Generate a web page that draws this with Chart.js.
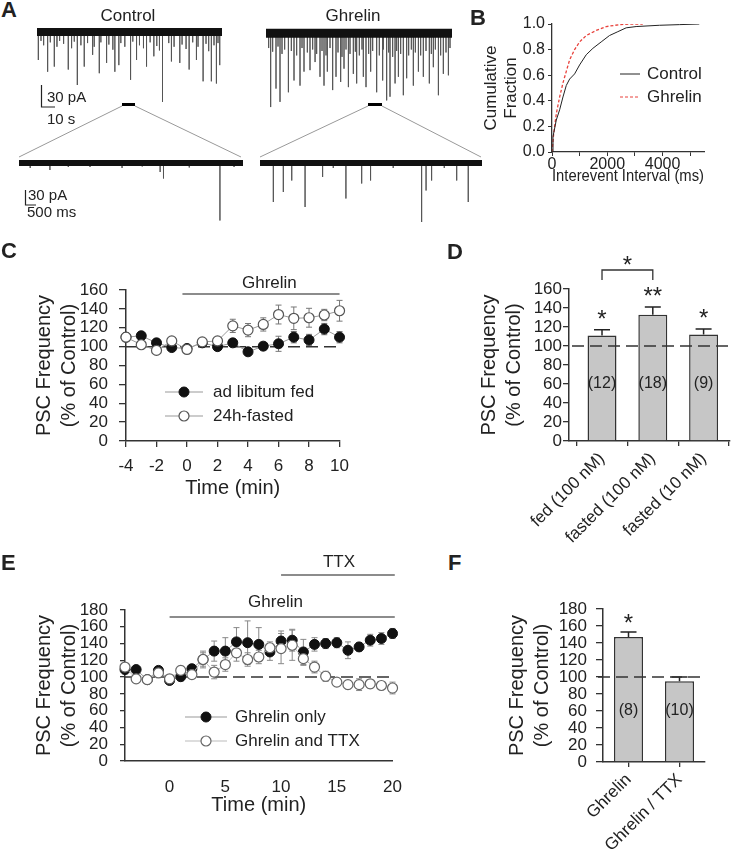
<!DOCTYPE html>
<html>
<head>
<meta charset="utf-8">
<script src="https://cdn.jsdelivr.net/npm/chart.js@4.4.1/dist/chart.umd.min.js"></script>
<style>
  body { margin: 0; background: #fff; font-family: "Liberation Sans", Arial, Helvetica, sans-serif; color: #222; }
  #fig { position: relative; width: 737px; height: 853px; overflow: hidden; }
  .txt { position: absolute; white-space: nowrap; line-height: 1; }
  .letter { position: absolute; font-weight: bold; font-size: 22px; line-height: 1; }
  svg { position: absolute; left: 0; top: 0; pointer-events: none; }
</style>
</head>
<body>
<div id="fig">
  <div class="letter" style="left:1px;top:-1px">A</div>
  <div class="letter" style="left:470px;top:7px">B</div>
  <div class="letter" style="left:1px;top:240px">C</div>
  <div class="letter" style="left:447px;top:241px">D</div>
  <div class="letter" style="left:1px;top:552px">E</div>
  <div class="letter" style="left:448px;top:552px">F</div>

  <div class="txt" style="left:128px;top:15px;font-size:17px;transform:translate(-50%,-50%)">Control</div>
  <div class="txt" style="left:353px;top:15px;font-size:17px;transform:translate(-50%,-50%)">Ghrelin</div>
  <div class="txt" style="left:47px;top:96px;font-size:15px;transform:translateY(-50%)">30 pA</div>
  <div class="txt" style="left:47px;top:118px;font-size:15px;transform:translateY(-50%)">10 s</div>
  <div class="txt" style="left:28px;top:194px;font-size:15px;transform:translateY(-50%)">30 pA</div>
  <div class="txt" style="left:27px;top:211px;font-size:15px;transform:translateY(-50%)">500 ms</div>

  <svg width="737" height="853">
    <!-- scale bars -->
    <path d="M41.5 85 V107 H55" fill="none" stroke="#222" stroke-width="1.2"/>
    <path d="M25.5 190 V205 H36" fill="none" stroke="#222" stroke-width="1.2"/>
    <!-- expanded segments -->
    <line x1="122" y1="104.5" x2="135" y2="104.5" stroke="#000" stroke-width="3"/>
    <line x1="368" y1="104.5" x2="382" y2="104.5" stroke="#000" stroke-width="3"/>
    <path d="M122 106 L19 157 M135 106 L241 157" stroke="#999" stroke-width="1" fill="none"/>
    <path d="M368 106 L260 157 M382 106 L481 157" stroke="#999" stroke-width="1" fill="none"/>
  </svg>
</div>

<script>
// ---------- Panel A: events, [time (s), amplitude (pA)] ----------
var ctrlOverviewEvents = [
  [1.0,38],[3,12],[5,18],[8.0,54],[10,14],[13.0,47],[15,20],[17,12],[20,16],[23.5,51],[26,22],[28,13],
  [30.3,72],[33,18],[35.5,47],[38,15],[41.8,31],[43,20],[46.8,56],[48,14],[52.3,42],[54,17],[57,24],
  [58.5,54],[61.5,45],[63,15],[66,20],[70.3,65],[72,13],[74.8,38],[77,18],[80,22],[82.3,47],[85,14],
  [87.8,33],[90,19],[92,25],[94.3,95],[99,15],[101,40],[103,20],[107.3,42],[109,17],[112,23],[114.3,51],
  [117,14],[119.8,38],[121,20],[124.8,67],[127,16],[129,26],[131,67],[133,18],[134.8,70],[136,15],[137.3,45]
];
var ghrOverviewEvents = [
  [2,20],[3.5,100],[5,25],[7.5,75],[9,18],[10.5,93],[12,28],[14,22],[16.8,80],[19,24],[21,64],[23,30],
  [25.5,71],[27,20],[28.5,52],[31,26],[33,50],[35,22],[36.8,39],[38,28],[40.5,59],[42,24],[43.5,71],
  [45,30],[46,52],[48,20],[50,77],[52.5,59],[54,26],[56,66],[57,32],[58.5,48],[60,22],[61.8,73],[63,28],
  [65.5,55],[67,25],[68,68],[70,30],[72,22],[73,59],[75,73],[77,28],[78.5,52],[80,24],[83,80],[85,30],
  [87.5,64],[88,22],[90.5,91],[92,26],[93,86],[95,32],[96.8,68],[98,24],[99.3,59],[101,28],[103,84],
  [105.5,61],[107,30],[109,22],[110.5,71],[112,26],[114.3,52],[116,30],[118,59],[120,24],[122.5,68],
  [124,28],[125.5,46],[127,22],[129.3,84],[131,30],[133,55],[135,26],[136.8,57],[138,20]
];
var ctrlZoomEvents = [[0.5,10],[1.38,14],[2.2,8],[3.17,8],[4.6,10],[5.5,7],[6.3,18],[6.45,31],[7.6,9],[8.97,115],[9.6,8]];
var ghrZoomEvents = [[0.6,78],[1.05,58],[1.43,35],[2.03,88],[2.82,28],[3.3,10],[3.87,71],[4.58,41],[4.98,35],
  [6.0,10],[7.28,118],[7.48,55],[7.73,35],[8.3,10],[8.86,35],[9.38,78]];

// ---------- Panel B: cumulative distribution of interevent intervals ----------
var cumCtrlMs   = [0, 36, 156, 277, 397, 517, 638, 818, 998, 1239, 1480, 1780, 2081, 2382, 2683, 3044, 3886, 4608, 5329];
var cumCtrlFrac = [0, 0.12, 0.25, 0.33, 0.43, 0.52, 0.57, 0.61, 0.68, 0.76, 0.81, 0.86, 0.91, 0.94, 0.97, 0.98, 0.99, 0.995, 1.0];
var cumGhrMs    = [0, 60, 156, 277, 397, 517, 638, 818, 998, 1239, 1600, 1961, 2442, 2923, 3284];
var cumGhrFrac  = [0, 0.14, 0.30, 0.43, 0.54, 0.63, 0.72, 0.80, 0.86, 0.91, 0.95, 0.98, 0.995, 1.0, 1.0];
var ticksB = [0, 1000, 2000, 3000, 4000, 5000];
var tickLabelsB = ['0', '', '2000', '', '4000', ''];

// ---------- Panel C ----------
var timeC      = [-4, -3, -2, -1, 0, 1, 2, 3, 4, 5, 6, 7, 8, 9, 10];
var fedC       = [110, 111.5, 104, 99, 98, 104, 100, 104, 94.5, 100.5, 103, 110, 107, 118.6, 110];
var fedErrC    = [4, 3, 3, 3, 2, 3, 3, 4, 3, 4, 8, 6, 6, 6, 6];
var fastedC    = [110, 102, 96, 106, 97, 105, 106, 122, 117.5, 123.5, 134, 130, 130.6, 133.5, 138];
var fastedErrC = [4, 3, 3, 3, 2, 3, 3, 7, 7, 7, 10, 12, 10, 6, 11];
var ghrelinPeriodC = [-0.3, 10];

// ---------- Panel D ----------
var groupsD = ['fed (100 nM)', 'fasted (100 nM)', 'fasted (10 nM)'];
var meanD   = [111, 133, 112];
var semD    = [6, 8, 6];
var nD      = ['(12)', '(18)', '(9)'];
var starsD  = ['*', '**', '*'];

// ---------- Panel E ----------
var timeE    = [-4, -3, -2, -1, 0, 1, 2, 3, 4, 5, 6, 7, 8, 9, 10, 11, 12, 13, 14, 15, 16, 17, 18, 19, 20];
var onlyE    = [109, 109, 97, 108, 96, 100.5, 110, 121, 131, 131, 142, 141, 139, 130, 143, 144, 130, 139, 140, 141, 132, 136, 144, 146, 152];
var onlyErrE = [5, 3, 3, 4, 4, 5, 5, 8, 12, 16, 17, 26, 20, 10, 12, 13, 15, 8, 6, 6, 10, 5, 7, 7, 6];
var ttxE     = [112, 98, 97, 105, 98, 108, 103, 121, 106, 115, 129, 121, 124, 135, 134, 138, 122, 112, 101, 94, 91, 91, 92, 90, 87];
var ttxErrE  = [4, 4, 3, 3, 3, 5, 4, 10, 8, 8, 10, 8, 8, 7, 18, 18, 8, 7, 6, 4, 5, 7, 5, 4, 7];
var ticksE   = [0, 5, 10, 15, 20];
var ghrelinPeriodE = [0, 20.2];
var ttxPeriodE = [10, 20.2];

// ---------- Panel F ----------
var groupsF = ['Ghrelin', 'Ghrelin / TTX'];
var meanF   = [147, 95];
var semF    = [6, 5];
var nF      = ['(8)', '(10)'];
var starsF  = ['*', ''];

// ================= setup =================
var FONT = '"Liberation Sans", Arial, Helvetica, sans-serif';
Chart.defaults.font.family = FONT;
Chart.defaults.color = '#222';
Chart.defaults.animation = false;
Chart.defaults.responsive = false;
Chart.defaults.plugins.legend.display = false;
Chart.defaults.plugins.tooltip.enabled = false;

var fig = document.getElementById('fig');

function makeCanvas(left, top, w, h) {
  var c = document.createElement('canvas');
  c.width = w;
  c.height = h;
  c.style.position = 'absolute';
  c.style.left = left + 'px';
  c.style.top = top + 'px';
  fig.insertBefore(c, fig.firstChild);
  return c.getContext('2d');
}

function pairs(xs, ys) {
  return xs.map(function(x, i) { return {x: x, y: ys[i]}; });
}

// turn an event list into a trace: flat baseline with a spike per event
function traceData(events) {
  var pts = [];
  events.slice().sort(function(a, b) { return a[0] - b[0]; }).forEach(function(e) {
    pts.push({x: e[0], y: 0}, {x: e[0], y: -e[1]}, {x: e[0] + 0.001, y: 0});
  });
  return pts;
}

// error bars drawn under the markers
var errorBars = {
  id: 'errorBars',
  beforeDatasetsDraw: function(chart) {
    var ctx = chart.ctx, ys = chart.scales.y;
    chart.data.datasets.forEach(function(ds, i) {
      if (!ds.errors) return;
      var meta = chart.getDatasetMeta(i);
      ctx.save();
      ctx.strokeStyle = ds.errorColor;
      ctx.lineWidth = ds.errorWidth || 1;
      meta.data.forEach(function(el, j) {
        var v = ds.data[j];
        if (typeof v === 'object') v = v.y;
        var e = ds.errors[j];
        var top = ys.getPixelForValue(v + e);
        var bot = ds.errorUpOnly ? ys.getPixelForValue(v) : ys.getPixelForValue(v - e);
        var x = el.x, cap = ds.errorCap;
        ctx.beginPath();
        ctx.moveTo(x, top); ctx.lineTo(x, bot);
        ctx.moveTo(x - cap, top); ctx.lineTo(x + cap, top);
        if (!ds.errorUpOnly) { ctx.moveTo(x - cap, bot); ctx.lineTo(x + cap, bot); }
        ctx.stroke();
      });
      ctx.restore();
    });
  }
};

function dashed100(chart, x0off, x1off) {
  var ctx = chart.ctx, a = chart.chartArea;
  var y = chart.scales.y.getPixelForValue(100);
  ctx.save();
  ctx.strokeStyle = '#333';
  ctx.lineWidth = 1.5;
  ctx.setLineDash([12, 6]);
  ctx.beginPath();
  ctx.moveTo(a.left + x0off, y);
  ctx.lineTo(a.right + x1off, y);
  ctx.stroke();
  ctx.restore();
}

function period(chart, range, y, label, labelX, labelY) {
  var ctx = chart.ctx, xs = chart.scales.x;
  ctx.save();
  ctx.strokeStyle = '#666';
  ctx.lineWidth = 1.5;
  ctx.beginPath();
  ctx.moveTo(xs.getPixelForValue(range[0]), y);
  ctx.lineTo(xs.getPixelForValue(range[1]), y);
  ctx.stroke();
  ctx.fillStyle = '#222';
  ctx.font = '17px ' + FONT;
  ctx.textAlign = 'center';
  ctx.textBaseline = 'middle';
  ctx.fillText(label, xs.getPixelForValue(labelX), labelY);
  ctx.restore();
}

function insideLegend(chart, x0, x1, textX, rows) {
  var ctx = chart.ctx;
  ctx.save();
  rows.forEach(function(r) {
    var ds = chart.data.datasets[r.ds];
    ctx.strokeStyle = ds.borderColor;
    ctx.lineWidth = 1;
    ctx.setLineDash(ds.borderDash || []);
    ctx.beginPath();
    ctx.moveTo(x0, r.y); ctx.lineTo(x1, r.y);
    ctx.stroke();
    ctx.setLineDash([]);
    if (ds.pointRadius) {
      ctx.beginPath();
      ctx.arc((x0 + x1) / 2, r.y, ds.pointRadius, 0, Math.PI * 2);
      ctx.fillStyle = ds.pointBackgroundColor;
      ctx.fill();
      ctx.strokeStyle = ds.pointBorderColor;
      ctx.lineWidth = ds.pointBorderWidth;
      ctx.stroke();
    }
    ctx.fillStyle = '#222';
    ctx.font = r.size + 'px ' + FONT;
    ctx.textAlign = 'left';
    ctx.textBaseline = 'middle';
    ctx.fillText(ds.label, textX, r.y);
  });
  ctx.restore();
}

function barNotes(chart, means, sems, ns, stars, starOff) {
  var ctx = chart.ctx, ys = chart.scales.y;
  var meta = chart.getDatasetMeta(0);
  ctx.save();
  ctx.fillStyle = '#222';
  ctx.textAlign = 'center';
  meta.data.forEach(function(bar, i) {
    ctx.font = '16px ' + FONT;
    ctx.textBaseline = 'middle';
    ctx.fillText(ns[i], bar.x, ys.getPixelForValue(60));
    if (stars[i]) {
      ctx.font = '24px ' + FONT;
      ctx.textBaseline = 'alphabetic';
      ctx.fillText(stars[i], bar.x, ys.getPixelForValue(means[i] + sems[i]) - starOff + 13);
    }
  });
  ctx.restore();
}

function yAxisPSC(max, width, titlePad, tickLen, tickPad) {
  return {
    type: 'linear', min: 0, max: max,
    ticks: {stepSize: 20, autoSkip: false, padding: tickPad, color: '#222', font: {size: 17, lineHeight: 1}},
    grid: {display: true, drawOnChartArea: false, drawTicks: true, tickLength: tickLen, color: '#333', lineWidth: 1.3},
    border: {display: true, color: '#333', width: 1.5},
    title: {display: true, text: ['PSC Frequency', '(% of Control)'], color: '#222',
            font: {size: 20, lineHeight: 1.25}, padding: {top: titlePad, bottom: 0}},
    afterFit: function(s) { s.width = width; }
  };
}

// ---------- Panel A charts ----------
function traceChart(left, top, w, h, events, span, ymin, ymax, band) {
  new Chart(makeCanvas(left, top, w, h), {
    type: 'line',
    data: {
      datasets: [
        {data: [{x: 0, y: 0}, {x: span, y: 0}], borderColor: '#111', borderWidth: band, pointRadius: 0},
        {data: traceData(events), borderColor: '#555', borderWidth: 1, pointRadius: 0, tension: 0}
      ]
    },
    options: {
      layout: {padding: 0},
      scales: {
        x: {type: 'linear', display: false, min: 0, max: span},
        y: {type: 'linear', display: false, min: ymin, max: ymax}
      }
    }
  });
}
traceChart(37, 20, 185, 90, ctrlOverviewEvents, 139, -106, 16.4, 8);
traceChart(266, 20, 186, 90, ghrOverviewEvents, 139.5, -104, 18, 9);
traceChart(19, 150, 224, 75, ctrlZoomEvents, 10, -124, 26, 6);
traceChart(260, 150, 222, 75, ghrZoomEvents, 10, -124, 26, 6);

// ---------- Panel B ----------
new Chart(makeCanvas(470, 0, 267, 190), {
  type: 'line',
  data: {
    datasets: [
      {label: 'Control', data: pairs(cumCtrlMs, cumCtrlFrac), borderColor: '#222', borderWidth: 1, pointRadius: 0},
      {label: 'Ghrelin', data: pairs(cumGhrMs, cumGhrFrac), borderColor: '#e8413b', borderWidth: 1.3,
       borderDash: [3, 2], pointRadius: 0}
    ]
  },
  options: {
    layout: {padding: {top: 24, right: 33, left: 0, bottom: 0}},
    scales: {
      x: {
        type: 'linear', min: 0, max: 5500,
        afterBuildTicks: function(s) { s.ticks = ticksB.map(function(v) { return {value: v}; }); },
        ticks: {padding: 1, minRotation: 0, maxRotation: 0, autoSkip: false, font: {size: 16, lineHeight: 1}, color: '#222',
                callback: function(v, i) { return tickLabelsB[i]; }},
        grid: {display: true, drawOnChartArea: false, tickLength: 4, color: '#333'},
        border: {display: true, color: '#333', width: 1.3},
        title: {display: true, text: 'Interevent Interval (ms)', color: '#222', font: {size: 17, lineHeight: 1.2},
                padding: {top: 0, bottom: 3}},
        afterFit: function(s) { s.height = 38; }
      },
      y: {
        type: 'linear', min: 0, max: 1,
        ticks: {stepSize: 0.2, autoSkip: false, padding: 3, font: {size: 16, lineHeight: 1}, color: '#222',
                callback: function(v) { return v.toFixed(1); }},
        grid: {display: true, drawOnChartArea: false, tickLength: 4, color: '#333'},
        border: {display: true, color: '#333', width: 1.3},
        title: {display: true, text: ['Cumulative', 'Fraction'], color: '#222', font: {size: 17, lineHeight: 1.15},
                padding: {top: 12, bottom: 0}},
        afterFit: function(s) { s.width = 82; }
      }
    }
  },
  plugins: [{
    id: 'legendB',
    afterDraw: function(chart) {
      insideLegend(chart, 150, 170, 177, [{ds: 0, y: 74, size: 17}, {ds: 1, y: 97, size: 17}]);
    }
  }]
});

// ---------- Panel C ----------
new Chart(makeCanvas(0, 250, 360, 260), {
  type: 'line',
  data: {
    datasets: [
      {label: 'ad libitum fed', data: pairs(timeC, fedC), order: 1, clip: false, errors: fedErrC, errorColor: '#777', errorCap: 3,
       borderColor: '#999', borderWidth: 1, pointRadius: 5, pointBackgroundColor: '#111',
       pointBorderColor: '#111', pointBorderWidth: 1},
      {label: '24h-fasted', data: pairs(timeC, fastedC), order: 0, clip: false, errors: fastedErrC, errorColor: '#777', errorCap: 3,
       borderColor: '#999', borderWidth: 1, pointRadius: 5, pointBackgroundColor: '#fff',
       pointBorderColor: '#555', pointBorderWidth: 1.2}
    ]
  },
  options: {
    layout: {padding: {top: 40, right: 19, left: 0, bottom: 0}},
    scales: {
      x: {
        type: 'linear', min: -4, max: 10,
        ticks: {stepSize: 2, padding: 11, font: {size: 17, lineHeight: 1}, color: '#222'},
        grid: {display: true, drawOnChartArea: false, tickLength: 6, color: '#333', lineWidth: 1.3},
        border: {display: true, color: '#333', width: 1.5},
        title: {display: true, text: 'Time (min)', color: '#222', font: {size: 20, lineHeight: 1.2},
                padding: {top: 0, bottom: 10}},
        afterFit: function(s) { s.height = 69; }
      },
      y: yAxisPSC(160, 126, 32, 7, 11)
    }
  },
  plugins: [errorBars, {
    id: 'notesC',
    beforeDatasetsDraw: function(chart) { dashed100(chart, 0, 0); },
    afterDraw: function(chart) {
      period(chart, ghrelinPeriodC, 44, 'Ghrelin', 5.4, 33);
      insideLegend(chart, 165, 203, 213, [{ds: 0, y: 142, size: 17}, {ds: 1, y: 166, size: 17}]);
    }
  }]
});

// ---------- Panel D (numeric x so the bars sit where the figure has them) ----------
new Chart(makeCanvas(380, 250, 357, 300), {
  type: 'bar',
  data: {
    datasets: [{
      data: meanD.map(function(v, i) { return {x: i, y: v}; }),
      errors: semD, errorUpOnly: true, errorCap: 8, errorColor: '#222', errorWidth: 1.5,
      backgroundColor: '#c6c6c6', borderColor: '#333', borderWidth: 1.5,
      barPercentage: 0.57, categoryPercentage: 1
    }]
  },
  options: {
    layout: {padding: {top: 39, right: 7, left: 0, bottom: 0}},
    scales: {
      x: {
        type: 'linear', min: -0.65, max: 2.52, offset: false,
        afterBuildTicks: function(s) { s.ticks = groupsD.map(function(g, i) { return {value: i}; }); },
        ticks: {minRotation: 45, maxRotation: 45, autoSkip: false, padding: 4, font: {size: 17, lineHeight: 1}, color: '#222',
                callback: function(v) { return groupsD[v]; }},
        grid: {display: true, drawOnChartArea: false, tickLength: 5, color: '#333', lineWidth: 1.3},
        border: {display: true, color: '#333', width: 1.5},
        afterFit: function(s) { s.height = 109; }
      },
      y: yAxisPSC(160, 189, 97, 6, 1)
    }
  },
  plugins: [errorBars, {
    id: 'notesD',
    afterDatasetsDraw: function(chart) {
      dashed100(chart, 3, 0);
      barNotes(chart, meanD, semD, nD, starsD, 16);
      // bracket between fed and fasted (100 nM)
      var meta = chart.getDatasetMeta(0), ctx = chart.ctx;
      var xa = meta.data[0].x, xb = meta.data[1].x;
      ctx.save();
      ctx.strokeStyle = '#333';
      ctx.lineWidth = 1.3;
      ctx.beginPath();
      ctx.moveTo(xa, 30); ctx.lineTo(xa, 20); ctx.lineTo(xb, 20); ctx.lineTo(xb, 30);
      ctx.stroke();
      ctx.fillStyle = '#222';
      ctx.font = '24px ' + FONT;
      ctx.textAlign = 'center';
      ctx.textBaseline = 'alphabetic';
      ctx.fillText('*', (xa + xb) / 2, 23);
      ctx.restore();
    }
  }]
});

// ---------- Panel E ----------
new Chart(makeCanvas(0, 555, 420, 275), {
  type: 'line',
  data: {
    datasets: [
      {label: 'Ghrelin only', data: pairs(timeE, onlyE), order: 1, clip: false, errors: onlyErrE, errorColor: '#888', errorCap: 3,
       borderColor: '#999', borderWidth: 1, pointRadius: 5, pointBackgroundColor: '#111',
       pointBorderColor: '#111', pointBorderWidth: 1},
      {label: 'Ghrelin and TTX', data: pairs(timeE, ttxE), order: 0, clip: false, errors: ttxErrE, errorColor: '#888', errorCap: 3,
       borderColor: '#bbb', borderWidth: 1, pointRadius: 5, pointBackgroundColor: '#fff',
       pointBorderColor: '#666', pointBorderWidth: 1.2}
    ]
  },
  options: {
    layout: {padding: {top: 55, right: 19, left: 0, bottom: 0}},
    scales: {
      x: {
        type: 'linear', min: -4, max: 20,
        afterBuildTicks: function(s) { s.ticks = ticksE.map(function(v) { return {value: v}; }); },
        ticks: {padding: 18, font: {size: 17, lineHeight: 1}, color: '#222'},
        grid: {display: true, drawOnChartArea: false, drawTicks: false, color: '#333'},
        border: {display: true, color: '#333', width: 1.5},
        title: {display: true, text: 'Time (min)', color: '#222', font: {size: 20, lineHeight: 1.2},
                padding: {top: 0, bottom: 13}},
        afterFit: function(s) { s.height = 69; }
      },
      y: yAxisPSC(180, 125, 32, 5, 12)
    }
  },
  plugins: [errorBars, {
    id: 'notesE',
    beforeDatasetsDraw: function(chart) { dashed100(chart, 0, 0); },
    afterDraw: function(chart) {
      period(chart, ttxPeriodE, 20, 'TTX', 15.2, 7);
      period(chart, ghrelinPeriodE, 62, 'Ghrelin', 9.5, 47);
      insideLegend(chart, 185, 227, 235, [{ds: 0, y: 162, size: 17}, {ds: 1, y: 186, size: 17}]);
    }
  }]
});

// ---------- Panel F ----------
new Chart(makeCanvas(430, 580, 307, 273), {
  type: 'bar',
  data: {
    labels: groupsF,
    datasets: [{
      data: meanF, errors: semF, errorUpOnly: true, errorCap: 8, errorColor: '#222', errorWidth: 1.5,
      backgroundColor: '#c6c6c6', borderColor: '#333', borderWidth: 1.5,
      barPercentage: 0.57, categoryPercentage: 1
    }]
  },
  options: {
    layout: {padding: {top: 29, right: 32, left: 0, bottom: 0}},
    scales: {
      x: {
        ticks: {minRotation: 45, maxRotation: 45, autoSkip: false, padding: 4, font: {size: 17, lineHeight: 1}, color: '#222'},
        grid: {display: true, offset: false, drawOnChartArea: false, tickLength: 5, color: '#333', lineWidth: 1.3},
        border: {display: true, color: '#333', width: 1.5},
        afterFit: function(s) { s.height = 91; }
      },
      y: yAxisPSC(180, 173, 75, 7, 9)
    }
  },
  plugins: [errorBars, {
    id: 'notesF',
    afterDatasetsDraw: function(chart) {
      dashed100(chart, -5, -5);
      barNotes(chart, meanF, semF, nF, starsF, 14);
    }
  }]
});
</script>
</body>
</html>
